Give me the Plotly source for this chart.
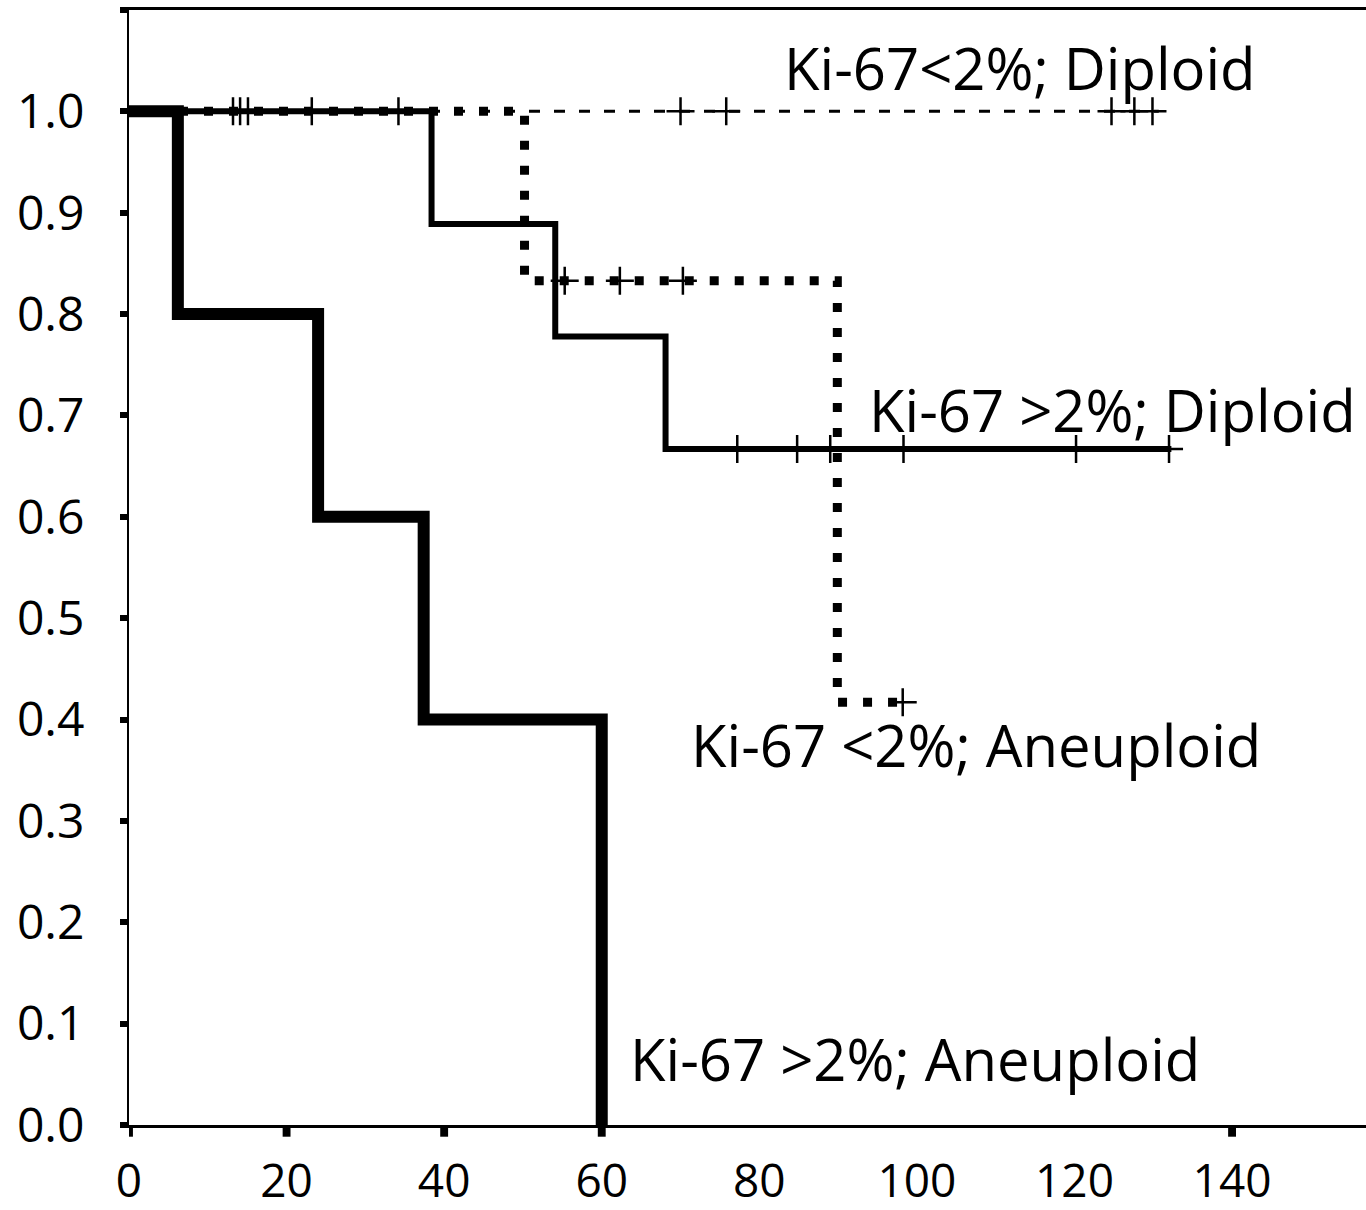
import plotly.graph_objects as go

# Kaplan-Meier step curves (time in months, survival fraction)
t_lo_dip = [0, 130.7]
s_lo_dip = [1.0, 1.0]
cens_lo_dip_t = [13.2, 14.1, 15.1, 23.2, 34.2, 70.0, 75.8, 124.7, 127.6, 129.9]
cens_lo_dip_s = [1.0] * len(cens_lo_dip_t)

t_lo_aneu = [0, 50.2, 89.9, 98.2]
s_lo_aneu = [1.0, 0.833, 0.417, 0.417]
cens_lo_aneu_t = [55.3, 62.3, 70.3, 98.2]
cens_lo_aneu_s = [0.833, 0.833, 0.833, 0.417]

t_hi_dip = [0, 38.4, 54.1, 68.1, 132.3]
s_hi_dip = [1.0, 0.889, 0.778, 0.667, 0.667]
cens_hi_dip_t = [77.2, 84.8, 89.0, 98.3, 120.2, 132.0]
cens_hi_dip_s = [0.667] * len(cens_hi_dip_t)

t_hi_aneu = [0, 6.2, 24.0, 37.4, 60.0]
s_hi_aneu = [1.0, 0.8, 0.6, 0.4, 0.0]

x_tickvals = [0, 20, 40, 60, 80, 100, 120, 140]
x_marked = [0, 20, 40, 60, 140]
y_tickvals = [0.0, 0.1, 0.2, 0.3, 0.4, 0.5, 0.6, 0.7, 0.8, 0.9, 1.0, 1.1]
y_ticktext = ["0.0", "0.1", "0.2", "0.3", "0.4", "0.5", "0.6", "0.7", "0.8", "0.9", "1.0", ""]

labels = ["Ki-67<2%; Diploid", "Ki-67 >2%; Diploid", "Ki-67 <2%; Aneuploid", "Ki-67 >2%; Aneuploid"]
label_t = [82.9, 93.7, 71.1, 63.3]
label_s = [1.043, 0.706, 0.375, 0.066]

FONT = "Open Sans, DejaVu Sans, sans-serif"

fig = go.Figure()

def curve(t, s, width, dash):
    fig.add_trace(go.Scatter(x=t, y=s, mode="lines", line_shape="hv",
                             line=dict(color="black", width=width, dash=dash),
                             hoverinfo="skip", showlegend=False))

def censor(t, s):
    fig.add_trace(go.Scatter(x=t, y=s, mode="markers",
                             marker=dict(symbol="cross-thin", size=20,
                                         line=dict(color="black", width=2.5)),
                             hoverinfo="skip", showlegend=False, cliponaxis=False))

curve(t_lo_dip, s_lo_dip, 3, "11px,14px")
curve(t_lo_aneu, s_lo_aneu, 9, "9px,16px")
curve(t_hi_dip, s_hi_dip, 6, "solid")
curve(t_hi_aneu, s_hi_aneu, 12, "solid")
censor(cens_lo_dip_t, cens_lo_dip_s)
censor(cens_lo_aneu_t, cens_lo_aneu_s)
censor(cens_hi_dip_t, cens_hi_dip_s)

for txt, tx, sy in zip(labels, label_t, label_s):
    fig.add_annotation(x=tx, y=sy, text=txt, showarrow=False, xanchor="left",
                       yanchor="middle", font=dict(family=FONT, size=58, color="black"))

# square tick marks under the time axis
for v in x_marked:
    fig.add_shape(type="rect", xref="x", yref="paper", x0=v - 0.5, x1=v + 0.5,
                  y0=-0.0025, y1=-0.0105, fillcolor="black", line_width=0)

fig.update_layout(
    width=1366, height=1210,
    margin=dict(l=129, r=0, t=10, b=85),
    paper_bgcolor="white", plot_bgcolor="white",
    font=dict(family=FONT, color="black"),
    showlegend=False,
)
fig.update_xaxes(range=[0, 157], tickvals=x_tickvals, ticks="", showgrid=False,
                 zeroline=False, showline=True, linecolor="black", linewidth=3,
                 mirror=True, tickfont=dict(size=46, family=FONT),
                 ticklabelstandoff=14, automargin=False)
fig.update_yaxes(range=[0, 1.1], tickvals=y_tickvals, ticktext=y_ticktext,
                 ticks="outside", ticklen=7, tickwidth=6, tickcolor="black",
                 showgrid=False, zeroline=False, showline=True, linecolor="black",
                 linewidth=2, tickfont=dict(size=48, family=FONT),
                 ticklabelstandoff=26, automargin=False)

fig.write_html("out.html")
